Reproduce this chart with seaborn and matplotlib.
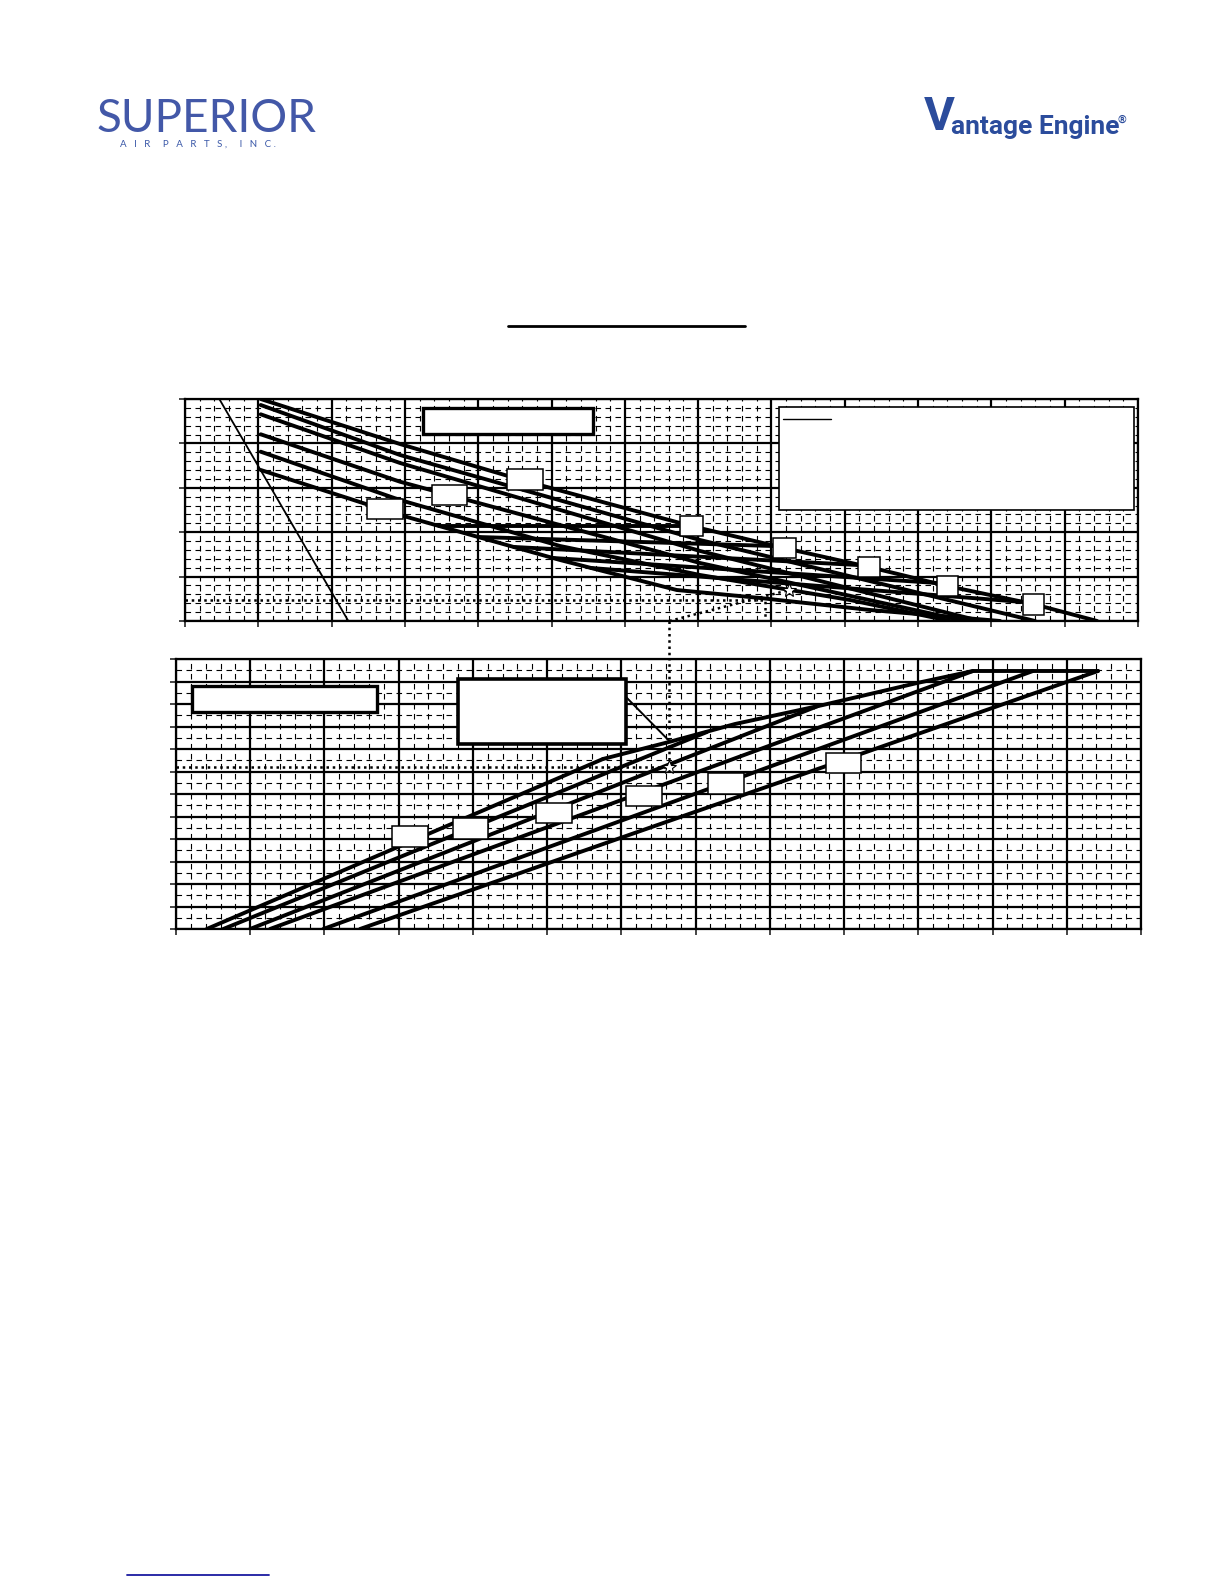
import matplotlib
matplotlib.use("Agg")
import matplotlib.pyplot as plt
import seaborn as sns
from matplotlib.patches import Rectangle
from matplotlib.lines import Line2D

W, H = 1224, 1584

# ---- top chart data (x 0..130, y 0..50) ----
steep_x = [4.68, 22.28]
steep_y = [50, 0]
top_l1_x = [10.33, 29.33, 46.38, 69.03, 81.72, 93.32, 103.96, 115.69, 124.42]
top_l1_y = [50.0, 39.86, 31.53, 21.40, 16.44, 12.16, 7.88, 3.83, 0]
top_l2_x = [10.33, 29.33, 70.26, 115.96]
top_l2_y = [48.65, 37.39, 18.24, 0]
top_l3_x = [10.33, 29.33, 70.26, 108.46]
top_l3_y = [46.55, 35.59, 15.77, 0]
top_l4_x = [10.33, 29.33, 70.26, 106.41]
top_l4_y = [42.05, 31.37, 13.06, 0]
top_l5_x = [10.33, 29.33, 51.16, 70.26, 90.72, 104.37]
top_l5_y = [38.13, 27.25, 16.89, 10.36, 4.73, 0]
top_l6_x = [10.33, 29.33, 51.16, 67.08, 78.44, 93.45, 111.19]
top_l6_y = [34.01, 23.87, 13.74, 6.98, 5.18, 2.48, 0]
# near-flat branches leaving the lowest curve
flat_x = [[34.65, 67.53], [39.97, 80.22], [44.88, 91.81], [50.20, 102.59], [55.39, 114.28]]
flat_y = [[21.40, 21.40], [18.92, 16.89], [16.67, 12.61], [14.19, 8.56], [11.94, 4.28]]
top_guide_x = [0, 79.13, 79.13]
top_guide_y = [4.73, 4.73, 0]
top_diag_x = [66.07, 82.40]
top_diag_y = [0, 6.98]

# ---- bottom chart data (x 0..130, y 0..120) ----
bot_b1_x = [4.14, 57.52]
bot_b1_y = [0, 75.56]
bot_env_x = [57.52, 66.55, 75.31, 87.16, 99.83, 107.37, 124.21]
bot_env_y = [75.56, 83.24, 91.11, 99.56, 109.33, 114.67, 114.67]
bot_b2_x = [6.37, 71.53]
bot_b2_y = [0, 87.56]
bot_b3_x = [9.97, 86.49]
bot_b3_y = [0, 99.11]
bot_b4_x = [12.66, 107.37]
bot_b4_y = [0, 114.67]
bot_b5_x = [19.84, 115.45]
bot_b5_y = [0, 114.67]
bot_b6_x = [24.79, 124.21]
bot_b6_y = [0, 114.67]
bot_guide_x = [0, 66.46, 66.46]
bot_guide_y = [72.13, 72.13, 120]
bot_star = (66.46, 72.13)

sns.set_style("white")
plt.rcParams['font.family'] = ['DejaVu Sans']

fig = plt.figure(figsize=(W / 100, H / 100), dpi=100)


def fx(px):
    return px / W


def fy(py):
    return 1 - py / H


def style_grid(ax, xmax, ymax, ymajor, yminor):
    ax.set_xlim(0, xmax)
    ax.set_ylim(0, ymax)
    ax.set_xticks(range(0, xmax + 1, 10))
    ax.set_xticks(range(0, xmax + 1, 2), minor=True)
    ax.set_yticks(range(0, ymax + 1, ymajor))
    ax.set_yticks(range(0, ymax + 1, yminor), minor=True)
    ax.grid(which='major', color='black', lw=1.6, ls='-')
    ax.grid(which='minor', color='black', lw=0.8, ls=(0, (5, 4)))
    ax.tick_params(which='major', direction='out', length=4, width=1.2,
                   left=True, bottom=True, labelleft=False, labelbottom=False)
    ax.tick_params(which='minor', length=0)
    ax.set_axisbelow(True)
    for s in ax.spines.values():
        s.set_color('black')
        s.set_linewidth(1.6)
    ax.set_xlabel('')
    ax.set_ylabel('')


def curve(ax, x, y, lw=2.8, **kw):
    sns.lineplot(x=x, y=y, sort=False, estimator=None, color='black', lw=lw, ax=ax, **kw)


# ---------- top chart ----------
ax1 = fig.add_axes([fx(185), fy(621), fx(1138) - fx(185), fy(399) - fy(621)])
curve(ax1, steep_x, steep_y, lw=1.3)
for xs, ys in [(top_l1_x, top_l1_y), (top_l2_x, top_l2_y), (top_l3_x, top_l3_y),
               (top_l4_x, top_l4_y), (top_l5_x, top_l5_y), (top_l6_x, top_l6_y)]:
    curve(ax1, xs, ys)
for xs, ys in zip(flat_x, flat_y):
    curve(ax1, xs, ys)
curve(ax1, top_guide_x, top_guide_y, lw=1.8, ls=(0, (1, 1.5)))
curve(ax1, top_diag_x, top_diag_y, lw=1.8, ls=(0, (1, 1.5)))
ax1.plot(top_diag_x[-1], top_diag_y[-1], marker='*', ms=10, mfc='white', mec='black', mew=0.8, zorder=5)
style_grid(ax1, 130, 50, 10, 2)

# ---------- bottom chart ----------
ax2 = fig.add_axes([fx(176), fy(929), fx(1141) - fx(176), fy(659) - fy(929)])
for xs, ys in [(bot_b1_x, bot_b1_y), (bot_env_x, bot_env_y), (bot_b2_x, bot_b2_y),
               (bot_b3_x, bot_b3_y), (bot_b4_x, bot_b4_y), (bot_b5_x, bot_b5_y),
               (bot_b6_x, bot_b6_y)]:
    curve(ax2, xs, ys)
curve(ax2, bot_guide_x, bot_guide_y, lw=1.8, ls=(0, (1, 1.5)))
ax2.plot(*bot_star, marker='*', ms=10, mfc='white', mec='black', mew=0.8, zorder=5)
style_grid(ax2, 130, 120, 10, 5)

# dotted link between the two charts
fig.add_artist(Line2D([fx(669.3), fx(669.3)], [fy(621), fy(659)], color='black',
                      lw=1.8, ls=(0, (1, 1.5)), transform=fig.transFigure))


def box(x0, y0, x1, y1, lw=1.1):
    fig.add_artist(Rectangle((fx(x0), fy(y1)), fx(x1) - fx(x0), fy(y0) - fy(y1),
                             transform=fig.transFigure, facecolor='white',
                             edgecolor='black', lw=lw, zorder=10))


# annotation boxes (top)
box(422.7, 407.7, 592.7, 433.7, lw=2.4)
box(779.3, 406.7, 1134, 510, lw=1.2)
fig.add_artist(Line2D([fx(782.7), fx(830.7)], [fy(419), fy(419)], color='black', lw=1.0,
                      transform=fig.transFigure, zorder=11))
for b in [(367.3, 499.3, 403.3, 519.3), (431.7, 485, 467.3, 505), (507.3, 469.3, 543.3, 490),
          (680, 515.7, 702.7, 535.7), (773.3, 538.3, 795.7, 558.3), (858.3, 557.3, 880, 577.3),
          (936.7, 575.7, 958.3, 595.7), (1022.7, 594.3, 1044.3, 615.3)]:
    box(*b)

# annotation boxes (bottom)
box(192.3, 685.7, 377.3, 711.7, lw=2.4)
box(457.7, 679.3, 626, 744.3, lw=2.6)
fig.add_artist(Line2D([fx(626), fx(670)], [fy(697), fy(741.7)], color='black', lw=1.4,
                      transform=fig.transFigure, zorder=9))
for b in [(391.7, 826, 428.3, 847.3), (452.7, 818.3, 488.3, 839), (536, 802.7, 572.3, 823.3),
          (626, 785.7, 662.3, 806), (708.3, 773.3, 744.3, 794), (825.7, 753.3, 861, 773.3)]:
    box(*b)

# title underline
fig.add_artist(Line2D([fx(508), fx(745)], [fy(325.5), fy(325.5)], color='black', lw=2.0,
                      transform=fig.transFigure))
# link underline at page foot
fig.add_artist(Line2D([fx(127), fx(269)], [fy(1574.5), fy(1574.5)], color='#1a1aa0', lw=1.3,
                      transform=fig.transFigure))

# logos
fig.text(fx(97), fy(119), "SUPERIOR", family='Lato', weight='normal', fontsize=33,
         color='#4358a8', ha='left', va='center')
fig.text(fx(120), fy(144), "A   I   R     P   A   R   T   S ,     I   N   C .", family='Lato',
         fontsize=7, color='#3a58a8', ha='left', va='center')
fig.text(fx(924), fy(117), "V", family='Roboto', weight='bold', fontsize=34,
         color='#2b4c9c', ha='left', va='center')
fig.text(fx(951), fy(127), "antage Engine", family='Roboto', weight='bold', fontsize=19,
         color='#2b4c9c', ha='left', va='center')
fig.text(fx(1118), fy(120), "\u00ae", family='Roboto', weight='bold', fontsize=8,
         color='#2b4c9c', ha='left', va='center')

fig.savefig("out.png", dpi=100)
